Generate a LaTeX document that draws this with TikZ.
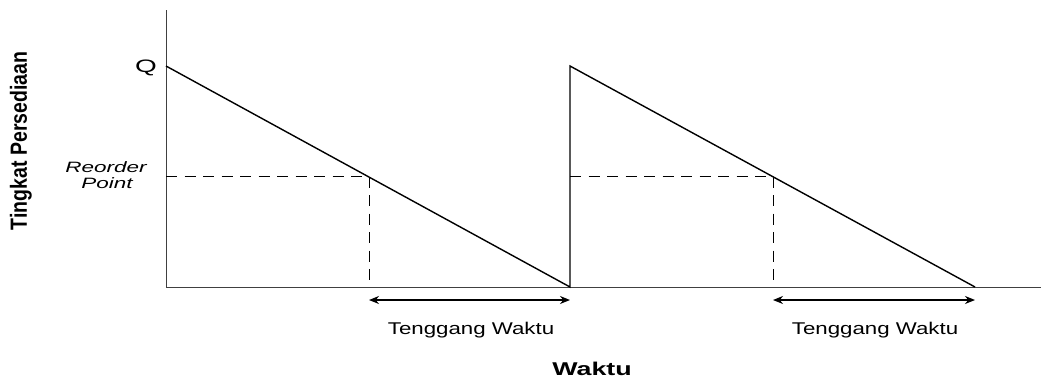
\documentclass[tikz,border=0pt]{standalone}
\usepackage{fontspec}
\setmainfont{Liberation Sans}
\usetikzlibrary{arrows.meta}
\begin{document}
\begin{tikzpicture}[x=1pt,y=-1pt,
  axis/.style={line width=0.9pt,black!75},
  saw/.style={line width=1.4pt},
  guide/.style={line width=0.9pt,dash pattern=on 11pt off 7.5pt},
  span/.style={line width=1.4pt,{Stealth[length=10pt,width=8pt]}-{Stealth[length=10pt,width=8pt]}},
  lbl/.style={inner sep=0pt,anchor=base}]
\useasboundingbox (0,0) rectangle (1054,381);
\coordinate (top) at (166,10);
\coordinate (o) at (166,287);
\coordinate (xend) at (1041,287);
\coordinate (q1) at (166,66);
\coordinate (z1) at (570,287);
\coordinate (q2) at (570,66);
\coordinate (z2) at (975,287);
\coordinate (r1) at (369,176);
\coordinate (r1b) at (369,287);
\coordinate (r2a) at (570,176);
\coordinate (r2) at (773,176);
\coordinate (r2b) at (773,287);
\coordinate (rl) at (166,176);
\coordinate (a1l) at (369,300);
\coordinate (a1r) at (570,300);
\coordinate (a2l) at (773,300);
\coordinate (a2r) at (975,300);
\draw[axis] (top) -- (o) -- (xend);
\draw[saw] (q1) -- (z1) -- (q2) -- (z2);
\draw[guide] (rl) -- (r1) -- (r1b);
\draw[guide] (r2a) -- (r2) -- (r2b);
\draw[span] (a1l) -- (a1r);
\draw[span] (a2l) -- (a2r);
\node[lbl,font=\fontsize{17}{19}\selectfont,xscale=1.31] (t1) at (471,334) {Tenggang Waktu};
\node[lbl,font=\fontsize{17}{19}\selectfont,xscale=1.31] (t2) at (875,334) {Tenggang Waktu};
\node[lbl,font=\fontsize{18.5}{20}\selectfont\bfseries,xscale=1.45] (w) at (592,375) {Waktu};
\node[lbl,font=\fontsize{18}{20}\selectfont,xscale=1.55] (q) at (146,72) {Q};
\node[lbl,font=\fontsize{15}{17}\selectfont\itshape,xscale=1.5] (rp1) at (106,172) {Reorder};
\node[lbl,font=\fontsize{15}{17}\selectfont\itshape,xscale=1.5] (rp2) at (107,188.5) {Point};
\node[inner sep=0pt,font=\fontsize{19.5}{21}\selectfont\bfseries,rotate=90] (ty) at (21,141) {\scalebox{1}[1.2]{Tingkat Persediaan}};
\end{tikzpicture}
\end{document}
